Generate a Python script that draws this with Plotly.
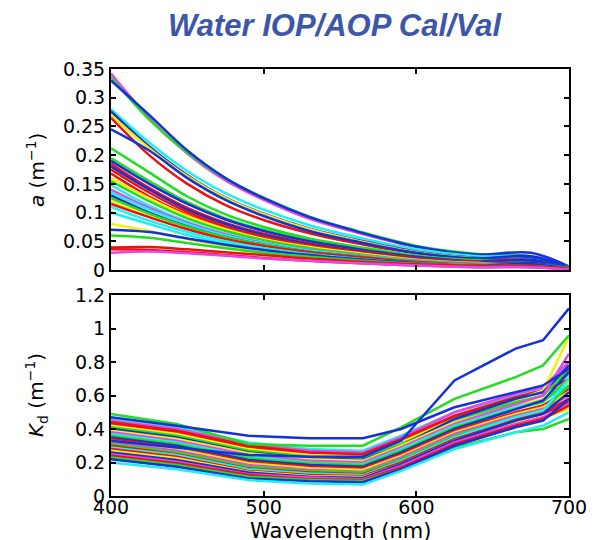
import plotly.graph_objects as go
from plotly.subplots import make_subplots

# ---------------- data ----------------
wl_a = [400, 425, 450, 475, 500, 530, 560, 600, 640, 675, 700]

a_c01 = [0.342, 0.265, 0.203, 0.156, 0.122, 0.089, 0.066, 0.040, 0.026, 0.022, 0.005]
a_c02 = [0.336, 0.262, 0.204, 0.159, 0.126, 0.093, 0.069, 0.042, 0.028, 0.024, 0.006]
a_c03 = [0.330, 0.270, 0.208, 0.160, 0.125, 0.092, 0.068, 0.041, 0.027, 0.030, 0.006]
a_c04 = [0.280, 0.222, 0.172, 0.134, 0.105, 0.078, 0.058, 0.036, 0.024, 0.022, 0.005]
a_c05 = [0.276, 0.215, 0.165, 0.126, 0.098, 0.072, 0.053, 0.032, 0.021, 0.020, 0.005]
a_c06 = [0.270, 0.212, 0.163, 0.125, 0.097, 0.071, 0.052, 0.031, 0.020, 0.018, 0.004]
a_c07 = [0.265, 0.200, 0.150, 0.113, 0.087, 0.064, 0.047, 0.029, 0.019, 0.017, 0.004]
a_c08 = [0.245, 0.208, 0.160, 0.122, 0.094, 0.068, 0.050, 0.030, 0.020, 0.024, 0.005]
a_c09 = [0.212, 0.170, 0.128, 0.097, 0.075, 0.055, 0.041, 0.025, 0.017, 0.016, 0.004]
a_c10 = [0.195, 0.155, 0.118, 0.090, 0.070, 0.052, 0.039, 0.024, 0.016, 0.015, 0.004]
a_c11 = [0.190, 0.150, 0.115, 0.088, 0.068, 0.050, 0.037, 0.023, 0.015, 0.018, 0.004]
a_c12 = [0.185, 0.143, 0.108, 0.082, 0.063, 0.046, 0.034, 0.021, 0.014, 0.013, 0.003]
a_c13 = [0.180, 0.140, 0.105, 0.080, 0.061, 0.045, 0.033, 0.020, 0.013, 0.016, 0.003]
a_c14 = [0.175, 0.135, 0.101, 0.076, 0.058, 0.043, 0.032, 0.019, 0.013, 0.012, 0.003]
a_c15 = [0.168, 0.128, 0.096, 0.072, 0.055, 0.040, 0.030, 0.018, 0.012, 0.011, 0.003]
a_c16 = [0.160, 0.125, 0.094, 0.071, 0.054, 0.040, 0.030, 0.018, 0.012, 0.011, 0.003]
a_c17 = [0.155, 0.120, 0.090, 0.068, 0.052, 0.038, 0.028, 0.017, 0.011, 0.012, 0.003]
a_c18 = [0.148, 0.112, 0.084, 0.063, 0.048, 0.035, 0.026, 0.016, 0.011, 0.010, 0.003]
a_c19 = [0.140, 0.108, 0.082, 0.062, 0.047, 0.035, 0.026, 0.016, 0.011, 0.010, 0.003]
a_c20 = [0.135, 0.105, 0.080, 0.060, 0.046, 0.034, 0.025, 0.015, 0.010, 0.009, 0.002]
a_c21 = [0.130, 0.100, 0.076, 0.057, 0.044, 0.032, 0.024, 0.014, 0.010, 0.012, 0.003]
a_c22 = [0.125, 0.098, 0.075, 0.057, 0.044, 0.032, 0.024, 0.015, 0.010, 0.010, 0.003]
a_c23 = [0.120, 0.093, 0.071, 0.054, 0.041, 0.030, 0.022, 0.013, 0.009, 0.008, 0.002]
a_c24 = [0.115, 0.092, 0.071, 0.054, 0.042, 0.031, 0.023, 0.014, 0.009, 0.009, 0.002]
a_c25 = [0.110, 0.086, 0.066, 0.050, 0.038, 0.028, 0.020, 0.012, 0.008, 0.007, 0.002]
a_c26 = [0.100, 0.080, 0.061, 0.046, 0.035, 0.026, 0.019, 0.011, 0.007, 0.007, 0.002]
a_c27 = [0.080, 0.068, 0.054, 0.042, 0.033, 0.024, 0.018, 0.011, 0.007, 0.007, 0.002]
a_c28 = [0.070, 0.066, 0.055, 0.044, 0.035, 0.026, 0.019, 0.012, 0.008, 0.010, 0.002]
a_c29 = [0.060, 0.056, 0.047, 0.038, 0.030, 0.023, 0.017, 0.011, 0.007, 0.007, 0.002]
a_c30 = [0.039, 0.040, 0.036, 0.031, 0.026, 0.020, 0.015, 0.010, 0.007, 0.007, 0.002]
a_c31 = [0.036, 0.035, 0.031, 0.026, 0.021, 0.016, 0.012, 0.008, 0.005, 0.005, 0.001]
a_c32 = [0.030, 0.032, 0.029, 0.025, 0.020, 0.016, 0.012, 0.008, 0.005, 0.005, 0.001]

a_colors = ["magenta", "green", "blue", "cyan", "blue", "yellow", "red", "blue",
            "green", "green", "blue", "red", "blue", "red", "red", "yellow",
            "green", "cyan", "magenta", "cyan", "blue", "green", "yellow", "red",
            "cyan", "cyan", "yellow", "blue", "green", "red", "red", "magenta"]

wl_kd = [400, 443, 490, 530, 565, 590, 625, 665, 683, 700]

kd_c01 = [0.46, 0.41, 0.32, 0.28, 0.27, 0.36, 0.50, 0.60, 0.64, 0.72]
kd_c02 = [0.45, 0.40, 0.31, 0.27, 0.26, 0.35, 0.50, 0.61, 0.65, 0.80]
kd_c03 = [0.44, 0.39, 0.30, 0.26, 0.25, 0.34, 0.48, 0.59, 0.63, 0.74]
kd_c04 = [0.43, 0.38, 0.29, 0.25, 0.24, 0.33, 0.47, 0.58, 0.62, 0.70]
kd_c05 = [0.42, 0.37, 0.28, 0.245, 0.235, 0.32, 0.46, 0.57, 0.63, 0.95]
kd_c06 = [0.41, 0.36, 0.27, 0.235, 0.225, 0.31, 0.45, 0.56, 0.60, 0.76]
kd_c07 = [0.40, 0.35, 0.26, 0.225, 0.215, 0.30, 0.46, 0.58, 0.62, 0.78]
kd_c08 = [0.39, 0.34, 0.255, 0.22, 0.21, 0.30, 0.44, 0.54, 0.58, 0.68]
kd_c09 = [0.38, 0.33, 0.245, 0.21, 0.20, 0.29, 0.43, 0.55, 0.60, 0.85]
kd_c10 = [0.37, 0.32, 0.235, 0.20, 0.19, 0.28, 0.42, 0.53, 0.57, 0.66]
kd_c11 = [0.36, 0.31, 0.225, 0.195, 0.185, 0.27, 0.41, 0.52, 0.56, 0.70]
kd_c12 = [0.35, 0.30, 0.215, 0.185, 0.175, 0.26, 0.40, 0.52, 0.57, 0.74]
kd_c13 = [0.34, 0.29, 0.205, 0.175, 0.165, 0.25, 0.39, 0.50, 0.54, 0.64]
kd_c14 = [0.33, 0.28, 0.195, 0.165, 0.155, 0.24, 0.38, 0.49, 0.53, 0.62]
kd_c15 = [0.32, 0.27, 0.185, 0.155, 0.145, 0.23, 0.37, 0.48, 0.52, 0.60]
kd_c16 = [0.31, 0.26, 0.175, 0.148, 0.14, 0.22, 0.36, 0.47, 0.51, 0.66]
kd_c17 = [0.30, 0.25, 0.165, 0.14, 0.13, 0.21, 0.35, 0.46, 0.50, 0.58]
kd_c18 = [0.29, 0.245, 0.16, 0.135, 0.125, 0.21, 0.35, 0.47, 0.51, 0.70]
kd_c19 = [0.28, 0.235, 0.15, 0.125, 0.118, 0.20, 0.34, 0.45, 0.49, 0.56]
kd_c20 = [0.27, 0.225, 0.145, 0.12, 0.113, 0.19, 0.33, 0.44, 0.47, 0.52]
kd_c21 = [0.26, 0.215, 0.14, 0.115, 0.108, 0.19, 0.33, 0.45, 0.49, 0.62]
kd_c22 = [0.25, 0.205, 0.13, 0.11, 0.10, 0.18, 0.32, 0.43, 0.47, 0.55]
kd_c23 = [0.24, 0.195, 0.125, 0.10, 0.095, 0.17, 0.31, 0.42, 0.46, 0.54]
kd_c24 = [0.23, 0.185, 0.115, 0.095, 0.09, 0.16, 0.29, 0.38, 0.40, 0.46]
kd_c25 = [0.22, 0.175, 0.105, 0.088, 0.082, 0.16, 0.30, 0.41, 0.45, 0.58]
kd_c26 = [0.20, 0.16, 0.095, 0.075, 0.068, 0.15, 0.28, 0.38, 0.42, 0.50]
kd_c27 = [0.49, 0.43, 0.31, 0.30, 0.30, 0.41, 0.58, 0.71, 0.78, 0.96]
kd_c28 = [0.47, 0.42, 0.36, 0.345, 0.345, 0.40, 0.53, 0.62, 0.66, 0.76]
kd_c29 = [0.33, 0.29, 0.245, 0.235, 0.235, 0.33, 0.69, 0.88, 0.93, 1.12]

kd_colors = ["cyan", "magenta", "red", "red", "yellow", "green", "blue", "yellow",
             "magenta", "cyan", "green", "blue", "red", "yellow", "magenta", "green",
             "red", "cyan", "red", "yellow", "blue", "magenta", "red", "green",
             "blue", "cyan", "green", "blue", "blue"]

a_ticks = [0, 0.05, 0.1, 0.15, 0.2, 0.25, 0.3, 0.35]
a_ticklabels = ["0", "0.05", "0.1", "0.15", "0.2", "0.25", "0.3", "0.35"]
kd_ticks = [0, 0.2, 0.4, 0.6, 0.8, 1.0, 1.2]
kd_ticklabels = ["0", "0.2", "0.4", "0.6", "0.8", "1", "1.2"]
x_ticks = [400, 500, 600, 700]
x_ticklabels = ["400", "500", "600", "700"]

a_series = [a_c01, a_c02, a_c03, a_c04, a_c05, a_c06, a_c07, a_c08, a_c09, a_c10,
            a_c11, a_c12, a_c13, a_c14, a_c15, a_c16, a_c17, a_c18, a_c19, a_c20,
            a_c21, a_c22, a_c23, a_c24, a_c25, a_c26, a_c27, a_c28, a_c29, a_c30,
            a_c31, a_c32]
kd_series = [kd_c01, kd_c02, kd_c03, kd_c04, kd_c05, kd_c06, kd_c07, kd_c08, kd_c09,
             kd_c10, kd_c11, kd_c12, kd_c13, kd_c14, kd_c15, kd_c16, kd_c17, kd_c18,
             kd_c19, kd_c20, kd_c21, kd_c22, kd_c23, kd_c24, kd_c25, kd_c26, kd_c27,
             kd_c28, kd_c29]

# ---------------- style ----------------
palette = {
    "blue": "#1432d8",
    "green": "#22dd22",
    "red": "#ee1111",
    "cyan": "#22eeee",
    "magenta": "#e845e8",
    "yellow": "#f5ee10",
}

# the page body has an 8px margin, so the figure starts at (8, 8) in the window
OFF = 8
W, H = 596 - OFF, 540 - OFF
L, R, T, B = 111 - OFF, 27, 69 - OFF, 44
ph = H - T - B
pw = W - L - R


def px_x(px):  # window pixel -> paper
    return (px - OFF - L) / pw


def px_y(py):  # window pixel -> paper
    return (H - B - (py - OFF)) / ph


fig = make_subplots(rows=2, cols=1)

for vals, c in zip(a_series, a_colors):
    fig.add_trace(go.Scatter(x=wl_a, y=vals, mode="lines",
                             line=dict(color=palette[c], width=2.5, shape="spline", smoothing=1.0),
                             showlegend=False, hoverinfo="skip"), row=1, col=1)

for vals, c in zip(kd_series, kd_colors):
    fig.add_trace(go.Scatter(x=wl_kd, y=vals, mode="lines",
                             line=dict(color=palette[c], width=2.5),
                             showlegend=False, hoverinfo="skip"), row=2, col=1)

axis_common = dict(showline=True, linecolor="black", linewidth=2, mirror="ticks",
                   ticks="inside", ticklen=5, tickwidth=2, tickcolor="black",
                   showgrid=False, zeroline=False, automargin=False)

fig.update_xaxes(range=[400, 700], tickvals=x_ticks, ticktext=x_ticklabels,
                 tickfont=dict(family="DejaVu Sans", size=19, color="black"), **axis_common)
fig.update_xaxes(showticklabels=False, row=1, col=1)
fig.update_xaxes(ticklabelstandoff=-7, row=2, col=1)

yfont = dict(family="DejaVu Sans", size=19, color="black")
fig.update_yaxes(range=[0, 0.35], tickvals=a_ticks, ticktext=a_ticklabels, tickfont=yfont,
                 domain=[px_y(270), 1.0], row=1, col=1, **axis_common)
fig.update_yaxes(range=[0, 1.2], tickvals=kd_ticks, ticktext=kd_ticklabels, tickfont=yfont,
                 domain=[0, px_y(295)], row=2, col=1, **axis_common)

title_font = dict(family="DejaVu Sans", size=20, color="black")
annotations = [
    dict(text="<b><i>Water IOP/AOP Cal/Val</i></b>", xref="paper", yref="paper",
         x=px_x(335), y=px_y(25), xanchor="center", yanchor="middle", showarrow=False,
         font=dict(family="Liberation Sans", size=31, color="#3d57a8")),
    dict(text="Wavelength (nm)", xref="paper", yref="paper",
         x=px_x(340), y=px_y(531), xanchor="center", yanchor="middle", showarrow=False,
         font=dict(family="DejaVu Sans", size=21, color="black")),
    dict(text="<i>a</i> (m<sup>−1</sup>)", xref="paper", yref="paper", textangle=-90,
         x=px_x(36), y=px_y(170), xanchor="center", yanchor="middle", showarrow=False,
         font=title_font),
    dict(text="<i>K</i><sub>d</sub> (m<sup>−1</sup>)", xref="paper", yref="paper", textangle=-90,
         x=px_x(36), y=px_y(395), xanchor="center", yanchor="middle", showarrow=False,
         font=title_font),
]

fig.update_layout(
    width=W, height=H,
    margin=dict(l=L, r=R, t=T, b=B, pad=0, autoexpand=False),
    paper_bgcolor="white", plot_bgcolor="white",
    annotations=annotations,
)

fig.write_html("out.html")
